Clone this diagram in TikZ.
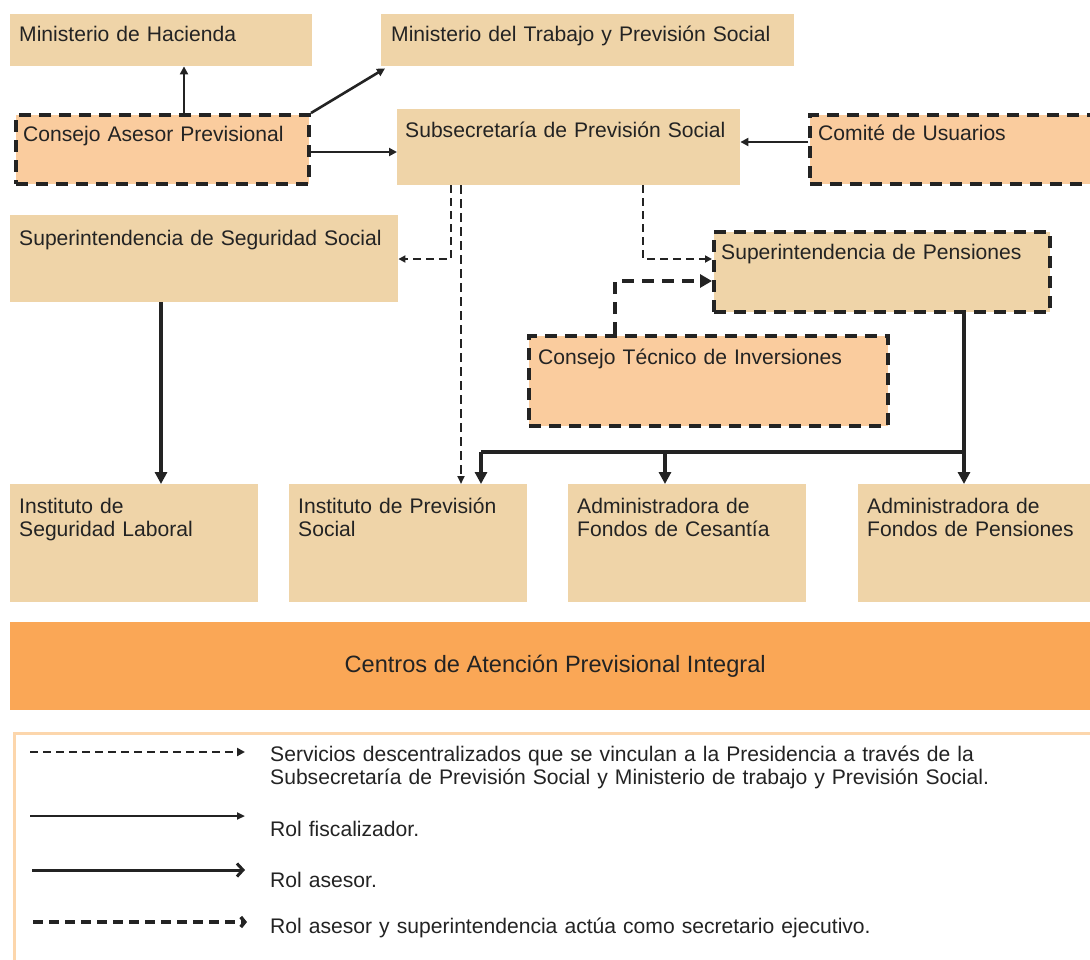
\documentclass[tikz,border=0pt]{standalone}
\usepackage{fontspec}
\setmainfont{Liberation Sans}
\usetikzlibrary{arrows.meta}
\definecolor{tanc}{RGB}{239,212,168}
\definecolor{orng}{RGB}{250,204,158}
\definecolor{centro}{RGB}{250,167,86}
\definecolor{legb}{RGB}{252,214,172}
\definecolor{ink}{RGB}{35,35,35}
\begin{document}
\begin{tikzpicture}[x=1pt,y=-1pt,
  font=\fontsize{21.1}{23.5}\selectfont,
  tbox/.style={fill=tanc, draw=none, inner sep=0, anchor=north west},
  obox/.style={fill=orng, draw=ink, line width=4pt, dash pattern=on 12pt off 8pt, inner sep=0, anchor=north west},
  dbox/.style={obox, fill=tanc},
  lbl/.style={inner sep=0, anchor=base west, align=left, text width=520pt, text=ink},
  con/.style={draw=ink, line width=2.6pt, -{Triangle[length=8pt,width=8pt]}},
  thin/.style={draw=ink, line width=2.2pt, dash pattern=on 8pt off 5pt, -{Triangle[length=7pt,width=7pt]}},
  mid/.style={draw=ink, line width=2.6pt, dash pattern=on 9pt off 5pt, -{Triangle[length=8pt,width=7pt]}},
  thk/.style={draw=ink, line width=4pt, dash pattern=on 12pt off 8pt, -{Triangle[length=12pt,width=13pt]}},
  sol/.style={draw=ink, line width=3.2pt, -{Triangle[length=12pt,width=12pt]}},
  bus/.style={draw=ink, line width=4pt},
]
\clip (0,0) rectangle (1090,959);
\fill[white] (0,0) rectangle (1090,959);

% boxes
\node[tbox, minimum width=302, minimum height=52] (mh) at (10,14) {};
\node[lbl] (mh-t) at ([shift={(9,27)}]mh.north west) {Ministerio de Hacienda};
\node[tbox, minimum width=413, minimum height=52] (mt) at (381,14) {};
\node[lbl] (mt-t) at ([shift={(10,27)}]mt.north west) {Ministerio del Trabajo y Previsión Social};
\node[obox, minimum width=293, minimum height=69] (cap) at (14,113) {};
\node[lbl] (cap-t) at ([shift={(9,28)}]cap.north west) {Consejo Asesor Previsional};
\node[tbox, minimum width=343, minimum height=76] (sub) at (397,109) {};
\node[lbl] (sub-t) at ([shift={(8,28)}]sub.north west) {Subsecretaría de Previsión Social};
\node[obox, minimum width=300, minimum height=69] (cu) at (808,113) {};
\node[lbl] (cu-t) at ([shift={(10,27)}]cu.north west) {Comité de Usuarios};
\node[tbox, minimum width=388, minimum height=87] (sss) at (10,215) {};
\node[lbl] (sss-t) at ([shift={(9,30)}]sss.north west) {Superintendencia de Seguridad Social};
\node[dbox, minimum width=336, minimum height=80] (sp) at (712,230) {};
\node[lbl] (sp-t) at ([shift={(9,29)}]sp.north west) {Superintendencia de Pensiones};
\node[obox, minimum width=359, minimum height=90] (cti) at (527,334) {};
\node[lbl] (cti-t) at ([shift={(11,30)}]cti.north west) {Consejo Técnico de Inversiones};
\node[tbox, minimum width=248, minimum height=118] (isl) at (10,484) {};
\node[lbl] (isl-t) at ([shift={(9,29)}]isl.north west) {Instituto de\\Seguridad Laboral};
\node[tbox, minimum width=238, minimum height=118] (ips) at (289,484) {};
\node[lbl] (ips-t) at ([shift={(9,29)}]ips.north west) {Instituto de Previsión\\Social};
\node[tbox, minimum width=238, minimum height=118] (afc) at (568,484) {};
\node[lbl] (afc-t) at ([shift={(9,29)}]afc.north west) {Administradora de\\Fondos de Cesantía};
\node[tbox, minimum width=240, minimum height=118] (afp) at (858,484) {};
\node[lbl] (afp-t) at ([shift={(9,29)}]afp.north west) {Administradora de\\Fondos de Pensiones};

\node[fill=centro, inner sep=0, anchor=north west, minimum width=1090, minimum height=88,
      font=\fontsize{23.6}{26}\selectfont, text=ink] (cen) at (10,622) {Centros de Atención Previsional Integral};

% connectors
\draw[con] ([xshift=21.5]cap.north) -- ([xshift=21.5]cap.north |- mh.south);
\draw[con] (cap.north east) -- ([shift={(4,2)}]mt.south west);
\draw[con, line width=2pt] (cap.east |- 0,152) -- (sub.west |- 0,152);
\draw[con, line width=2pt] (cu.west |- 0,142) -- (sub.east |- 0,142);
\draw[thin] (sub.south -| 451,0) |- (sss.east |- 0,259);
\draw[mid] (sub.south -| 461,0) -- (ips.north -| 461,0);
\draw[thin] (sub.south -| 643,0) |- (sp.west |- 0,259);
\draw[thk] (cti.north -| 615,0) |- (sp.west |- 0,281);
\draw[sol] (sss.south -| 161,0) -- (isl.north -| 161,0);
\coordinate (b1) at (964,452);
\coordinate (b2) at (665,452);
\coordinate (b3) at (481,452);
\draw[bus] (sp.south -| b1) -- (b1) -- (b3);
\draw[sol, line width=4pt] (b1) -- (afp.north -| b1);
\draw[sol, line width=4pt] (b2) -- (afc.north -| b2);
\draw[sol, line width=4pt] (b3) -- (ips.north -| b3);

% legend
\node[draw=legb, line width=3pt, fill=white, inner sep=0, anchor=north west, minimum width=1100, minimum height=260] (leg) at (13,732) {};
\coordinate (l1a) at (30,752); \coordinate (l1b) at (245,752);
\coordinate (l2a) at (30,816); \coordinate (l2b) at (245,816);
\coordinate (l3a) at (32,870); \coordinate (l3b) at (245,870);
\coordinate (l4a) at (33,922); \coordinate (l4b) at (247,922);
\draw[draw=ink, line width=2.4pt, dash pattern=on 8pt off 5pt, -{Triangle[length=8pt,width=8pt]}] (l1a) -- (l1b);
\draw[draw=ink, line width=2.2pt, -{Triangle[length=8pt,width=7pt]}] (l2a) -- (l2b);
\draw[draw=ink, line width=3pt, -{Straight Barb[length=6pt,width=13pt]}] (l3a) -- (l3b);
\draw[draw=ink, line width=3.5pt, dash pattern=on 10pt off 6pt, -{Straight Barb[length=4pt,width=10pt]}] (l4a) -- (l4b);
\node[lbl, text width=800pt] (lt1) at (270,761) {Servicios descentralizados que se vinculan a la Presidencia a través de la\\Subsecretaría de Previsión Social y Ministerio de trabajo y Previsión Social.};
\node[lbl] (lt2) at (270,836) {Rol fiscalizador.};
\node[lbl] (lt3) at (270,887) {Rol asesor.};
\node[lbl, text width=800pt] (lt4) at (270,933) {Rol asesor y superintendencia actúa como secretario ejecutivo.};
\end{tikzpicture}
\end{document}
